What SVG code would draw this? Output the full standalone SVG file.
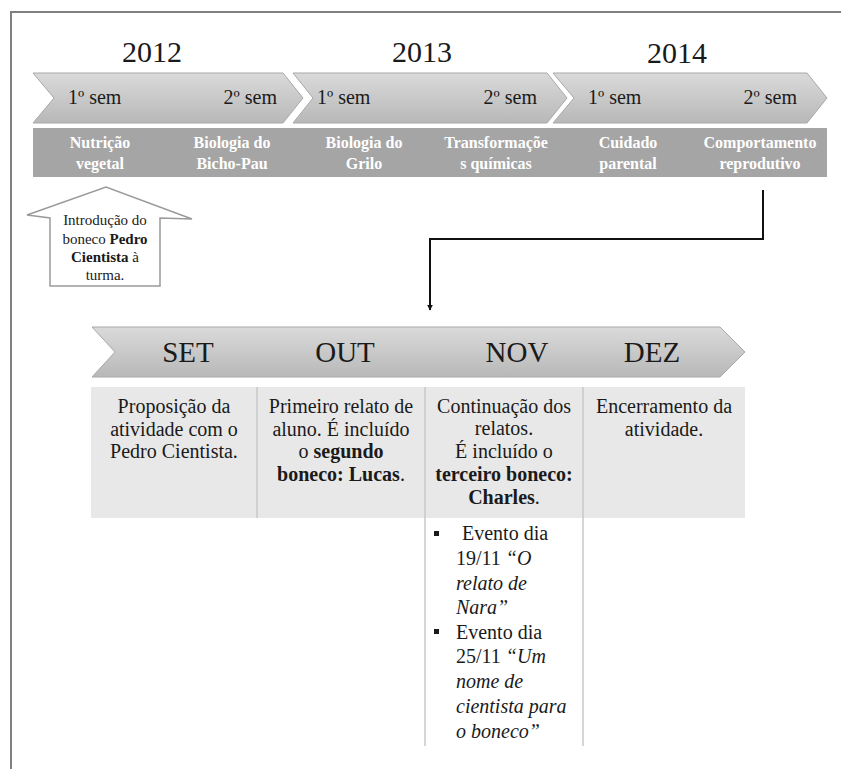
<svg xmlns="http://www.w3.org/2000/svg" width="841" height="769" viewBox="0 0 841 769">
<defs>
<linearGradient id="chev" x1="0" y1="0" x2="0" y2="1">
<stop offset="0" stop-color="#dadada"/>
<stop offset="1" stop-color="#b8b8b8"/>
</linearGradient>
<marker id="arr" viewBox="0 0 10 10" refX="9" refY="5" markerWidth="6" markerHeight="6" orient="auto" markerUnits="userSpaceOnUse">
<path d="M0,0 L10,5 L0,10 z" fill="#111"/>
</marker>
<style>
.serif{font-family:"Liberation Serif","Times New Roman",serif;fill:#1a1a1a}
.year{font-size:30px}
.sem{font-size:20px}
.bar{font-family:"Liberation Serif","Times New Roman",serif;font-size:16px;font-weight:bold;fill:#ffffff;text-anchor:middle}
.chevron{fill:url(#chev);stroke:#a8a8a8;stroke-width:1}
.mon{font-size:29px;text-anchor:middle}
.cell{font-size:20px;text-anchor:middle}
.bul{font-size:20px}
.b{font-weight:bold}
.i{font-style:italic}
.div{stroke:#c8c8c8;stroke-width:1.5}
.conn{fill:none;stroke:#111;stroke-width:2}
</style>
</defs>
<rect width="841" height="769" fill="#ffffff"/>
<path d="M11,769 L11,12 L841,12" fill="none" stroke="#808080" stroke-width="2"/>

<g id="years" class="serif">
<text class="year" x="152" y="62" text-anchor="middle">2012</text>
<text class="year" x="422" y="62" text-anchor="middle">2013</text>
<text class="year" x="677" y="63" text-anchor="middle">2014</text>
</g>

<g id="timeline-top">
<polygon class="chevron" points="33,73 283,73 303,98 283,123 33,123 54,98"/>
<polygon class="chevron" points="293,73 547,73 567,98 547,123 293,123 313,98"/>
<polygon class="chevron" points="553,73 807,73 827,98 807,123 553,123 574,98"/>
<g class="serif sem">
<text x="68" y="104">1º sem</text>
<text x="277" y="104" text-anchor="end">2º sem</text>
<text x="317" y="104">1º sem</text>
<text x="537" y="104" text-anchor="end">2º sem</text>
<text x="588" y="104">1º sem</text>
<text x="797" y="104" text-anchor="end">2º sem</text>
</g>
</g>

<g id="topics">
<rect x="33" y="128" width="794" height="49" fill="#a5a5a5"/>
<text class="bar" x="100" y="148">Nutrição<tspan x="100" y="169">vegetal</tspan></text>
<text class="bar" x="232" y="148">Biologia do<tspan x="232" y="169">Bicho-Pau</tspan></text>
<text class="bar" x="364" y="148">Biologia do<tspan x="364" y="169">Grilo</tspan></text>
<text class="bar" x="496" y="148">Transformaçõe<tspan x="496" y="169">s químicas</tspan></text>
<text class="bar" x="628" y="148">Cuidado<tspan x="628" y="169">parental</tspan></text>
<text class="bar" x="760" y="148">Comportamento<tspan x="760" y="169">reprodutivo</tspan></text>
</g>

<g id="callout-pedro">
<polygon points="50,286 50,218 27,215 106,187 192,219 160,218 160,286" fill="#ffffff" stroke="#9a9a9a" stroke-width="1.5"/>
<g class="serif" font-size="15" text-anchor="middle">
<text x="105" y="225">Introdução do</text>
<text x="105" y="244">boneco <tspan class="b">Pedro</tspan></text>
<text x="105" y="262"><tspan class="b">Cientista</tspan> à</text>
<text x="105" y="280">turma.</text>
</g>
</g>

<g id="connectors">
<path class="conn" d="M763,190 L763,239 L430,239 L430,310" marker-end="url(#arr)"/>
</g>

<g id="timeline-months">
<polygon class="chevron" points="92,327 720,327 745,352 720,377 92,377 115,352"/>
<g class="serif mon">
<text x="188" y="362">SET</text>
<text x="345" y="362">OUT</text>
<text x="517" y="362">NOV</text>
<text x="652" y="362">DEZ</text>
</g>
</g>

<g id="table">
<rect x="91" y="387" width="654" height="131" fill="#e8e8e8"/>
<line class="div" x1="257" y1="387" x2="257" y2="518"/>
<line class="div" x1="425" y1="387" x2="425" y2="746"/>
<line class="div" x1="583" y1="387" x2="583" y2="746"/>
</g>

<g id="cell-set" class="serif cell">
<text x="174" y="413">Proposição da</text>
<text x="174" y="436">atividade com o</text>
<text x="174" y="458">Pedro Cientista.</text>
</g>

<g id="cell-out" class="serif cell">
<text x="341" y="413">Primeiro relato de</text>
<text x="341" y="436">aluno. É incluído</text>
<text x="341" y="458">o <tspan class="b">segundo</tspan></text>
<text x="341" y="481"><tspan class="b">boneco: Lucas</tspan>.</text>
</g>

<g id="cell-nov" class="serif cell">
<text x="504" y="413">Continuação dos</text>
<text x="504" y="435">relatos.</text>
<text x="504" y="458">É incluído o</text>
<text x="504" y="481"><tspan class="b">terceiro  boneco:</tspan></text>
<text x="504" y="504"><tspan class="b">Charles</tspan>.</text>
</g>

<g id="cell-dez" class="serif cell">
<text x="664" y="413">Encerramento da</text>
<text x="664" y="436">atividade.</text>
</g>

<g id="events" class="serif bul">
<rect x="434" y="531" width="5" height="5" fill="#1a1a1a"/>
<text x="462" y="540">Evento dia</text>
<text x="456" y="565">19/11 <tspan class="i">“O</tspan></text>
<text x="456" y="590" class="i">relato de</text>
<text x="456" y="614" class="i">Nara”</text>
<rect x="434" y="629" width="5" height="5" fill="#1a1a1a"/>
<text x="456" y="639">Evento dia</text>
<text x="456" y="663">25/11 <tspan class="i">“Um</tspan></text>
<text x="456" y="688" class="i">nome de</text>
<text x="456" y="713" class="i">cientista para</text>
<text x="456" y="738" class="i">o boneco”</text>
</g>
</svg>
